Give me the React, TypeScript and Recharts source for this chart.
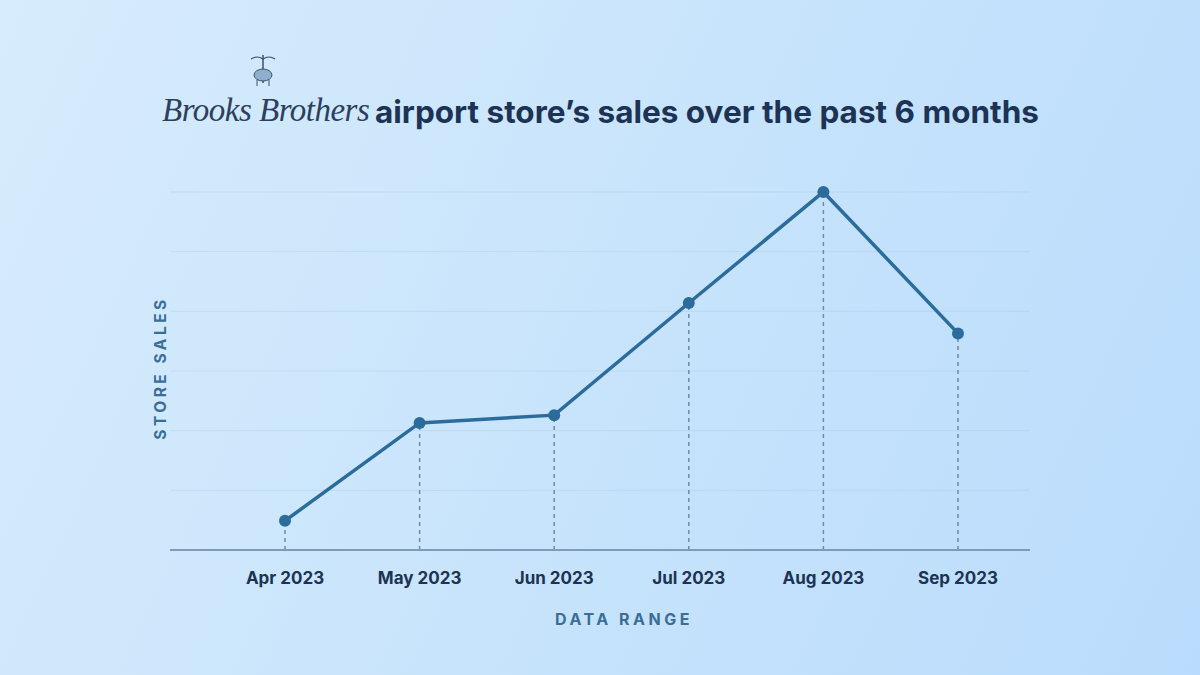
import React from 'react';
import { LineChart, Line, XAxis, YAxis, CartesianGrid, ReferenceLine } from 'recharts';

// months shown on the x axis
const months = ['Apr 2023', 'May 2023', 'Jun 2023', 'Jul 2023', 'Aug 2023', 'Sep 2023'];
// store sales, relative units (axis has no numbers)
const sales = [4.9, 21.3, 22.6, 41.4, 60, 36.3];
// faint grid levels
const yTicks = [0, 10, 20, 30, 40, 50, 60];

const chartData = months.map((month, i) => ({ month, sales: sales[i] }));

const LINE = '#2c6c9c';
const NAVY = '#1c3355';
const LABEL = '#3a6e98';

const Emblem = () => (
  <svg width="40" height="36" viewBox="0 0 40 36" style={{ position: 'absolute', left: 243, top: 53 }}>
    <path d="M8 6 Q14 2 20 6 Q26 2 32 6" stroke="#3b4f6e" strokeWidth="1.2" fill="none" />
    <line x1="20" y1="2" x2="20" y2="30" stroke="#3b4f6e" strokeWidth="1.5" />
    <ellipse cx="20" cy="22" rx="9" ry="6" fill="#8fb0cc" stroke="#3b4f6e" strokeWidth="1" />
    <line x1="14" y1="27" x2="14" y2="33" stroke="#3b4f6e" strokeWidth="1" />
    <line x1="26" y1="27" x2="26" y2="33" stroke="#3b4f6e" strokeWidth="1" />
  </svg>
);

export default function App() {
  return (
    <div
      style={{
        position: 'fixed',
        left: 0,
        top: 0,
        width: 1200,
        height: 675,
        overflow: 'hidden',
        background: 'linear-gradient(115deg, #d7ecfc 0%, #c8e4fc 50%, #badcfc 100%)',
        fontFamily: 'Inter, sans-serif',
      }}
    >
      <Emblem />
      <div
        style={{
          position: 'absolute',
          left: 162,
          top: 92,
          fontFamily: '"Liberation Serif", serif',
          fontStyle: 'italic',
          fontSize: 33,
          color: '#2d3f5e',
          letterSpacing: -0.5,
        }}
      >
        Brooks Brothers
      </div>
      <div
        style={{
          position: 'absolute',
          left: 375,
          top: 92,
          fontSize: 31.5,
          fontWeight: 700,
          color: NAVY,
        }}
      >
        airport store’s sales over the past 6 months
      </div>
      <div style={{ position: 'absolute', left: 0, top: 0 }}>
        <LineChart width={1200} height={675} data={chartData} margin={{ top: 192, right: 170, bottom: 0, left: 170 }}>
          <CartesianGrid vertical={false} stroke="#a7c5de" strokeOpacity={0.35} />
          <XAxis
            dataKey="month"
            padding={{ left: 115, right: 72 }}
            axisLine={{ stroke: '#7f9bb5', strokeWidth: 2 }}
            tickLine={false}
            tickMargin={16}
            tick={{ fill: NAVY, fontSize: 17, fontWeight: 700 }}
            height={125}
          />
          <YAxis domain={[0, 60]} ticks={yTicks} hide />
          {chartData.map((d) => (
            <ReferenceLine
              key={d.month}
              segment={[
                { x: d.month, y: 0 },
                { x: d.month, y: d.sales },
              ]}
              stroke="#6f8aa4"
              strokeWidth={1.5}
              strokeDasharray="4 4"
            />
          ))}
          <Line
            type="linear"
            dataKey="sales"
            stroke={LINE}
            strokeWidth={3.5}
            dot={{ r: 6, fill: LINE, stroke: LINE, strokeWidth: 0 }}
            isAnimationActive={false}
          />
        </LineChart>
      </div>
      <div
        style={{
          position: 'absolute',
          left: 624,
          top: 619,
          transform: 'translate(-50%, -50%)',
          fontSize: 16,
          fontWeight: 700,
          color: LABEL,
          letterSpacing: 3.5,
          whiteSpace: 'nowrap',
        }}
      >
        DATA RANGE
      </div>
      <div
        style={{
          position: 'absolute',
          left: 160,
          top: 368,
          transform: 'translate(-50%, -50%) rotate(-90deg)',
          fontSize: 15.5,
          fontWeight: 700,
          color: LABEL,
          letterSpacing: 3.5,
          whiteSpace: 'nowrap',
        }}
      >
        STORE SALES
      </div>
    </div>
  );
}
